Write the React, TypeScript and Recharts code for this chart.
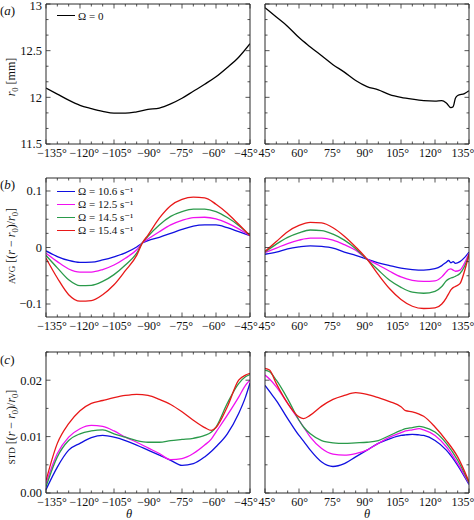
import React from 'react';
import { LineChart, Line, XAxis, YAxis, Legend } from 'recharts';

// ---------- data ----------
const thetaAL = [-135, -130, -125, -120, -115, -110, -105, -100, -95, -90, -85, -80, -75, -70, -65, -60, -55, -50, -45];
const r0AL = [12.10, 12.035, 11.97, 11.915, 11.88, 11.85, 11.83, 11.83, 11.845, 11.87, 11.885, 11.93, 11.99, 12.065, 12.14, 12.22, 12.32, 12.43, 12.575];

const thetaAR = [45, 50, 55, 60, 65, 70, 75, 80, 85, 90, 95, 100, 105, 110, 115, 120, 123, 125, 127, 128, 129, 130, 133, 135];
const r0AR = [12.96, 12.86, 12.76, 12.64, 12.54, 12.445, 12.35, 12.27, 12.18, 12.115, 12.08, 12.03, 12.0, 11.98, 11.965, 11.96, 11.965, 11.94, 11.89, 11.9, 11.99, 12.02, 12.04, 12.07];

const thetaBL = [-135, -130, -125, -120, -115, -110, -105, -100, -95, -92.5, -90, -85, -80, -75, -70, -65, -60, -55, -50, -45];
const avgBlueL = [-0.006, -0.016, -0.023, -0.0265, -0.026, -0.022, -0.0165, -0.0094, 0.001, 0.008, 0.012, 0.018, 0.025, 0.032, 0.038, 0.040, 0.040, 0.035, 0.028, 0.021];
const avgMagentaL = [-0.010, -0.025, -0.038, -0.0435, -0.0435, -0.039, -0.031, -0.019, -0.004, 0.008, 0.015, 0.028, 0.040, 0.048, 0.053, 0.0535, 0.0505, 0.043, 0.033, 0.021];
const avgGreenL = [-0.014, -0.036, -0.057, -0.0675, -0.067, -0.060, -0.048, -0.031, -0.010, 0.008, 0.020, 0.040, 0.055, 0.0635, 0.068, 0.068, 0.0635, 0.053, 0.039, 0.021];
const avgRedL = [-0.019, -0.054, -0.0835, -0.095, -0.094, -0.0835, -0.066, -0.041, -0.014, 0.008, 0.022, 0.052, 0.074, 0.085, 0.089, 0.088, 0.0765, 0.0605, 0.041, 0.021];

const thetaBR = [45, 50, 55, 60, 65, 70, 75, 80, 85, 90, 95, 100, 105, 110, 115, 120, 123, 125, 126, 127, 128, 129, 131, 133, 135];
const avgBlueR = [-0.012, -0.008, -0.0024, 0.001, 0.003, 0.002, -0.001, -0.008, -0.014, -0.0205, -0.027, -0.032, -0.0365, -0.039, -0.040, -0.0375, -0.032, -0.026, -0.023, -0.027, -0.025, -0.028, -0.025, -0.018, -0.008];
const avgMagentaR = [-0.009, -0.001, 0.007, 0.013, 0.0165, 0.0165, 0.013, 0.005, -0.005, -0.0205, -0.031, -0.042, -0.052, -0.058, -0.060, -0.059, -0.052, -0.043, -0.039, -0.038, -0.040, -0.042, -0.040, -0.028, -0.010];
const avgGreenR = [-0.008, 0.006, 0.018, 0.026, 0.031, 0.030, 0.0235, 0.013, -0.002, -0.021, -0.040, -0.058, -0.0705, -0.079, -0.081, -0.0776, -0.069, -0.059, -0.056, -0.054, -0.053, -0.051, -0.046, -0.0335, -0.013];
const avgRedR = [-0.007, 0.0105, 0.028, 0.039, 0.0445, 0.0435, 0.035, 0.020, 0.001, -0.0205, -0.048, -0.073, -0.092, -0.104, -0.108, -0.107, -0.100, -0.089, -0.082, -0.075, -0.071, -0.069, -0.064, -0.042, -0.012];

const thetaCL = [-135, -130, -125, -120, -115, -110, -105, -100, -95, -90, -85, -80, -75, -70, -65, -62, -60, -55, -50, -47, -45];
const stdRedL = [0.0022, 0.0088, 0.0123, 0.0146, 0.0159, 0.0164, 0.0169, 0.0173, 0.0175, 0.0173, 0.0166, 0.0157, 0.0144, 0.0129, 0.0116, 0.0111, 0.0116, 0.0153, 0.0200, 0.0209, 0.0212];
const stdMagentaL = [0.0017, 0.0070, 0.0099, 0.0114, 0.0120, 0.0118, 0.0110, 0.0099, 0.0090, 0.0080, 0.0070, 0.0059, 0.0061, 0.0070, 0.0085, 0.0096, 0.0108, 0.0138, 0.0170, 0.0191, 0.0200];
const stdGreenL = [0.0011, 0.0064, 0.0093, 0.0105, 0.0110, 0.0112, 0.0105, 0.0099, 0.0093, 0.0090, 0.0090, 0.0093, 0.0095, 0.0097, 0.0102, 0.0108, 0.0117, 0.0159, 0.0194, 0.0206, 0.0210];
const stdBlueL = [0.0006, 0.0046, 0.0076, 0.0088, 0.0098, 0.0102, 0.0099, 0.0093, 0.0085, 0.0076, 0.0067, 0.0058, 0.0049, 0.0052, 0.0064, 0.0074, 0.0082, 0.0105, 0.0141, 0.0170, 0.0195];

const thetaCR = [45, 47, 50, 55, 60, 62, 65, 70, 75, 80, 85, 90, 95, 100, 105, 107, 110, 113, 115, 120, 125, 130, 135];
const stdRedR = [0.0221, 0.0218, 0.0194, 0.0159, 0.0135, 0.0132, 0.0138, 0.0154, 0.0166, 0.0173, 0.0178, 0.0175, 0.0169, 0.0162, 0.0153, 0.0146, 0.0144, 0.0140, 0.0136, 0.0117, 0.0093, 0.0064, 0.0020];
const stdGreenR = [0.0218, 0.0215, 0.0200, 0.0167, 0.0129, 0.0117, 0.0105, 0.0093, 0.0089, 0.0088, 0.0089, 0.0090, 0.0093, 0.0102, 0.0111, 0.0114, 0.0116, 0.0118, 0.0117, 0.0108, 0.0088, 0.0058, 0.0018];
const stdMagentaR = [0.0209, 0.0202, 0.0188, 0.0159, 0.0129, 0.0117, 0.0099, 0.0079, 0.0069, 0.0067, 0.0070, 0.0076, 0.0088, 0.0099, 0.0107, 0.0110, 0.0112, 0.0114, 0.0112, 0.0102, 0.0082, 0.0052, 0.0017];
const stdBlueR = [0.0191, 0.0180, 0.0164, 0.0132, 0.0102, 0.0092, 0.0076, 0.0055, 0.0047, 0.0052, 0.0064, 0.0076, 0.0088, 0.0096, 0.0102, 0.0103, 0.0104, 0.0103, 0.0102, 0.0093, 0.0076, 0.0049, 0.0015];

// ticks
const xTicksL = [-135, -130, -125, -120, -115, -110, -105, -100, -95, -90, -85, -80, -75, -70, -65, -60, -55, -50, -45];
const xTicksR = [45, 50, 55, 60, 65, 70, 75, 80, 85, 90, 95, 100, 105, 110, 115, 120, 125, 130, 135];
const yTicksA = [11.5, 11.6667, 11.8333, 12, 12.1667, 12.3333, 12.5, 12.6667, 12.8333, 13];
const yTicksB = [-0.1, -0.075, -0.05, -0.025, 0, 0.025, 0.05, 0.075, 0.1];
const yTicksC = [0, 0.005, 0.01, 0.015, 0.02, 0.025];

const legendA = ['Ω = 0'];
const legendB = ['Ω = 10.6 s⁻¹', 'Ω = 12.5 s⁻¹', 'Ω = 14.5 s⁻¹', 'Ω = 15.4 s⁻¹'];

// ---------- style ----------
const FONT = '"Liberation Serif", "DejaVu Serif", serif';
const COLORS = { blue: '#1010e0', magenta: '#f010f0', green: '#2a9a4a', red: '#e81818', black: '#000' };
const FRAME = '#2a2a2a';
const W = 474;
const H = 520;

const COL_L = { left: 46, right: 250 };
const COL_R = { left: 265, right: 469 };
const ROW_A = { top: 4, bottom: 144 };
const ROW_B = { top: 178, bottom: 317 };
const ROW_C = { top: 352, bottom: 493 };

const near = (a: number, b: number) => Math.abs(a - b) < 1e-6;
const xMajor = (v: number) => near(v % 15, 0);
const yMajorA = (v: number) => near(v * 2, Math.round(v * 2));
const yMajorB = (v: number) => near(v * 10, Math.round(v * 10));
const yMajorC = (v: number) => near(v * 100, Math.round(v * 100));

const fmtX = (v: number) => (v < 0 ? '−' + Math.abs(v) : String(v)) + '°';
const fmtA = (v: number) => String(Math.round(v * 2) / 2);
const fmtB = (v: number) => {
  const r = Math.round(v * 10) / 10;
  return r < 0 ? '−' + Math.abs(r) : String(r);
};
const fmtC = (v: number) => v.toFixed(2);

type Side = 'bottom' | 'top' | 'left' | 'right';

const makeTick = (
  side: Side,
  isMajor: (v: number) => boolean,
  fmt?: (v: number) => string,
  dxFn?: (v: number) => number
) => (props: any) => {
  const { x, y, payload } = props;
  const v = payload.value as number;
  const major = isMajor(v);
  const len = major ? 4.5 : 2.5;
  let x2 = x;
  let y2 = y;
  if (side === 'bottom') y2 = y - len;
  else if (side === 'top') y2 = y + len;
  else if (side === 'left') x2 = x + len;
  else x2 = x - len;
  let label: React.ReactNode = null;
  if (fmt && major) {
    if (side === 'bottom') {
      label = (
        <text x={x + (dxFn ? dxFn(v) : 0)} y={y + 12.5} textAnchor="middle" fontFamily={FONT} fontSize={12} fill="#111">
          {fmt(v)}
        </text>
      );
    } else if (side === 'left') {
      label = (
        <text x={x - 4} y={Math.max(y, 6)} dy="0.35em" textAnchor="end" fontFamily={FONT} fontSize={12.5} fill="#111">
          {fmt(v)}
        </text>
      );
    }
  }
  return (
    <g>
      <line x1={x} y1={y} x2={x2} y2={y2} stroke={FRAME} strokeWidth={0.8} />
      {label}
    </g>
  );
};

const makeLegend = (colors: string[]) => (props: any) => {
  const payload = props.payload || [];
  return (
    <div style={{ fontFamily: FONT, fontSize: 11, color: '#111' }}>
      {payload.map((p: any, i: number) => (
        <div key={i} style={{ display: 'flex', alignItems: 'center', height: 13, whiteSpace: 'nowrap' }}>
          <span style={{ display: 'inline-block', width: 18, borderTop: `1.5px solid ${colors[i]}`, marginRight: 3 }} />
          <span>{p.value}</span>
        </div>
      ))}
    </div>
  );
};

type SeriesDef = { key: string; values: number[]; color: string; name: string };

function Panel(props: {
  col: { left: number; right: number };
  row: { top: number; bottom: number };
  theta: number[];
  series: SeriesDef[];
  xDomain: [number, number];
  xTicks: number[];
  yDomain: [number, number];
  yTicks: number[];
  yMajor: (v: number) => boolean;
  yFmt?: (v: number) => string;
  xDx: (v: number) => number;
  legendTop?: number;
}) {
  const { col, row, theta, series, xDomain, xTicks, yDomain, yTicks, yMajor, yFmt, xDx, legendTop } = props;
  const data = theta.map((t, i) => {
    const o: Record<string, number> = { theta: t };
    series.forEach((s) => {
      o[s.key] = s.values[i];
    });
    return o;
  });
  const LegendContent = makeLegend(series.map((s) => s.color));
  return (
    <div style={{ position: 'absolute', left: 0, top: 0, width: W, height: H, pointerEvents: 'none' }}>
      <LineChart
        width={W}
        height={H}
        data={data}
        margin={{ left: col.left - 1, right: W - col.right - 1, top: row.top - 1, bottom: H - row.bottom - 1 }}
      >
        <XAxis
          dataKey="theta"
          type="number"
          domain={xDomain}
          ticks={xTicks}
          interval={0}
          allowDataOverflow
          height={1}
          tickSize={0}
          tickMargin={0}
          tickLine={false}
          axisLine={{ stroke: FRAME, strokeWidth: 1 }}
          tick={makeTick('bottom', xMajor, fmtX, xDx)}
        />
        <XAxis
          xAxisId="top"
          orientation="top"
          dataKey="theta"
          type="number"
          domain={xDomain}
          ticks={xTicks}
          interval={0}
          allowDataOverflow
          height={1}
          tickSize={0}
          tickMargin={0}
          tickLine={false}
          axisLine={{ stroke: FRAME, strokeWidth: 1 }}
          tick={makeTick('top', xMajor)}
        />
        <YAxis
          type="number"
          domain={yDomain}
          ticks={yTicks}
          interval={0}
          allowDataOverflow
          width={1}
          tickSize={0}
          tickMargin={0}
          tickLine={false}
          axisLine={{ stroke: FRAME, strokeWidth: 1 }}
          tick={makeTick('left', yMajor, yFmt)}
        />
        <YAxis
          yAxisId="right"
          orientation="right"
          type="number"
          domain={yDomain}
          ticks={yTicks}
          interval={0}
          allowDataOverflow
          width={1}
          tickSize={0}
          tickMargin={0}
          tickLine={false}
          axisLine={{ stroke: FRAME, strokeWidth: 1 }}
          tick={makeTick('right', yMajor)}
        />
        {series.map((s) => (
          <Line
            key={s.key}
            dataKey={s.key}
            name={s.name}
            stroke={s.color}
            strokeWidth={1.3}
            dot={false}
            type="monotone"
            isAnimationActive={false}
          />
        ))}
        {legendTop !== undefined && (
          <Legend
            layout="vertical"
            align="center"
            verticalAlign="middle"
            content={<LegendContent />}
            wrapperStyle={{ position: 'absolute', left: col.left + 11, top: legendTop, width: 'auto', height: 'auto' }}
          />
        )}
      </LineChart>
    </div>
  );
}

const dxLeft = (v: number) => 6 - ((v + 135) / 90) * 10;
const dxRight = (v: number) => 2 - ((v - 45) / 90) * 8;

const sub0 = (
  <tspan fontSize={8.5} dy={2.5}>
    0
  </tspan>
);

export default function App() {
  const seriesA_L: SeriesDef[] = [{ key: 'r0', values: r0AL, color: COLORS.black, name: legendA[0] }];
  const seriesA_R: SeriesDef[] = [{ key: 'r0', values: r0AR, color: COLORS.black, name: legendA[0] }];
  const seriesB_L: SeriesDef[] = [
    { key: 'blue', values: avgBlueL, color: COLORS.blue, name: legendB[0] },
    { key: 'magenta', values: avgMagentaL, color: COLORS.magenta, name: legendB[1] },
    { key: 'green', values: avgGreenL, color: COLORS.green, name: legendB[2] },
    { key: 'red', values: avgRedL, color: COLORS.red, name: legendB[3] },
  ];
  const seriesB_R: SeriesDef[] = [
    { key: 'blue', values: avgBlueR, color: COLORS.blue, name: legendB[0] },
    { key: 'magenta', values: avgMagentaR, color: COLORS.magenta, name: legendB[1] },
    { key: 'green', values: avgGreenR, color: COLORS.green, name: legendB[2] },
    { key: 'red', values: avgRedR, color: COLORS.red, name: legendB[3] },
  ];
  const seriesC_L: SeriesDef[] = [
    { key: 'blue', values: stdBlueL, color: COLORS.blue, name: legendB[0] },
    { key: 'magenta', values: stdMagentaL, color: COLORS.magenta, name: legendB[1] },
    { key: 'green', values: stdGreenL, color: COLORS.green, name: legendB[2] },
    { key: 'red', values: stdRedL, color: COLORS.red, name: legendB[3] },
  ];
  const seriesC_R: SeriesDef[] = [
    { key: 'blue', values: stdBlueR, color: COLORS.blue, name: legendB[0] },
    { key: 'magenta', values: stdMagentaR, color: COLORS.magenta, name: legendB[1] },
    { key: 'green', values: stdGreenR, color: COLORS.green, name: legendB[2] },
    { key: 'red', values: stdRedR, color: COLORS.red, name: legendB[3] },
  ];

  const domA: [number, number] = [11.5, 13];
  const domB: [number, number] = [-0.123, 0.123];
  const domC: [number, number] = [0, 0.025];

  return (
    <div style={{ position: 'absolute', left: 0, top: 0, width: W, height: H, background: '#fff', overflow: 'hidden' }}>
      <Panel col={COL_L} row={ROW_A} theta={thetaAL} series={seriesA_L} xDomain={[-135, -45]} xTicks={xTicksL}
        yDomain={domA} yTicks={yTicksA} yMajor={yMajorA} yFmt={fmtA} xDx={dxLeft} legendTop={9} />
      <Panel col={COL_R} row={ROW_A} theta={thetaAR} series={seriesA_R} xDomain={[45, 135]} xTicks={xTicksR}
        yDomain={domA} yTicks={yTicksA} yMajor={yMajorA} xDx={dxRight} />
      <Panel col={COL_L} row={ROW_B} theta={thetaBL} series={seriesB_L} xDomain={[-135, -45]} xTicks={xTicksL}
        yDomain={domB} yTicks={yTicksB} yMajor={yMajorB} yFmt={fmtB} xDx={dxLeft} legendTop={185} />
      <Panel col={COL_R} row={ROW_B} theta={thetaBR} series={seriesB_R} xDomain={[45, 135]} xTicks={xTicksR}
        yDomain={domB} yTicks={yTicksB} yMajor={yMajorB} xDx={dxRight} />
      <Panel col={COL_L} row={ROW_C} theta={thetaCL} series={seriesC_L} xDomain={[-135, -45]} xTicks={xTicksL}
        yDomain={domC} yTicks={yTicksC} yMajor={yMajorC} yFmt={fmtC} xDx={dxLeft} />
      <Panel col={COL_R} row={ROW_C} theta={thetaCR} series={seriesC_R} xDomain={[45, 135]} xTicks={xTicksR}
        yDomain={domC} yTicks={yTicksC} yMajor={yMajorC} xDx={dxRight} />

      <svg width={W} height={H} style={{ position: 'absolute', left: 0, top: 0, pointerEvents: 'none' }}
        fontFamily={FONT} fill="#111">
        <text x={0} y={15} fontSize={13}>(<tspan fontStyle="italic">a</tspan>)</text>
        <text x={0} y={189} fontSize={13}>(<tspan fontStyle="italic">b</tspan>)</text>
        <text x={0} y={364} fontSize={13}>(<tspan fontStyle="italic">c</tspan>)</text>

        <text transform="translate(15,77) rotate(-90)" textAnchor="middle" fontSize={12}>
          <tspan fontStyle="italic">r</tspan>{sub0}<tspan dy={-2.5}> [mm]</tspan>
        </text>
        <text transform="translate(15,246) rotate(-90)" textAnchor="middle" fontSize={12}>
          <tspan fontSize={9}>AVG</tspan> [(<tspan fontStyle="italic">r</tspan> − <tspan fontStyle="italic">r</tspan>{sub0}<tspan dy={-2.5}>)/</tspan><tspan fontStyle="italic">r</tspan>{sub0}<tspan dy={-2.5}>]</tspan>
        </text>
        <text transform="translate(15,427) rotate(-90)" textAnchor="middle" fontSize={12}>
          <tspan fontSize={9}>STD</tspan> [(<tspan fontStyle="italic">r</tspan> − <tspan fontStyle="italic">r</tspan>{sub0}<tspan dy={-2.5}>)/</tspan><tspan fontStyle="italic">r</tspan>{sub0}<tspan dy={-2.5}>]</tspan>
        </text>

        <text x={129} y={518} fontSize={12.5} fontStyle="italic" textAnchor="middle">θ</text>
        <text x={367} y={518} fontSize={12.5} fontStyle="italic" textAnchor="middle">θ</text>
      </svg>
    </div>
  );
}
